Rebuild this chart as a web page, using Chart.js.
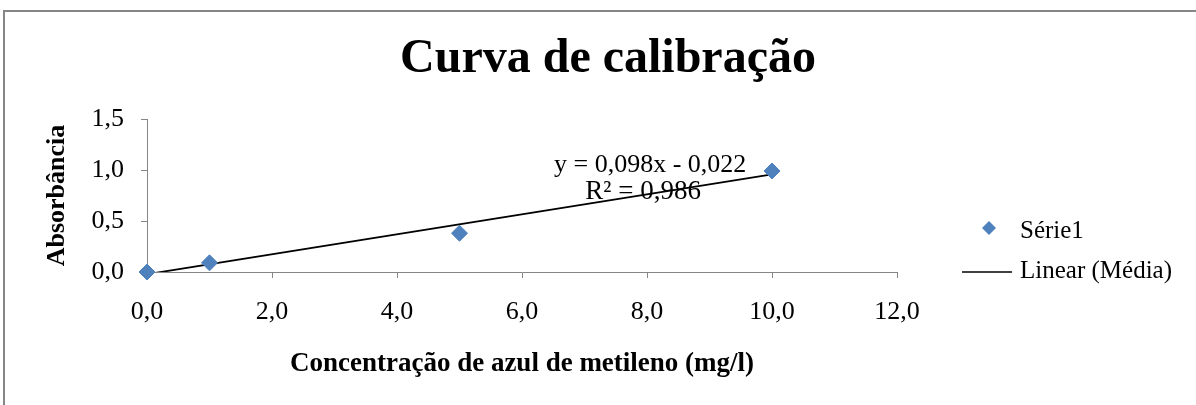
<!DOCTYPE html>
<html>
<head>
<meta charset="utf-8">
<script src="https://cdn.jsdelivr.net/npm/chart.js@4.4.0/dist/chart.umd.min.js"></script>
<style>
  html, body { margin: 0; padding: 0; background: #fff; }
  #wrap { width: 1196px; height: 405px; }
</style>
</head>
<body>
<div id="wrap"><canvas id="chart" width="1196" height="405"></canvas></div>
<script>
// data
const concentracao = [0, 1, 5, 10];
const absorbancia = [0, 0.09, 0.38, 0.99];
// trendline end points (from y = 0,098x - 0,022)
const linhaX = [0, 10];
const linhaY = [-0.022, 0.958];
const titulo = "Curva de calibração";
const tituloX = "Concentração de azul de metileno (mg/l)";
const tituloY = "Absorbância";
const equacao = ["y = 0,098x - 0,022", "R² = 0,986"];
const legendaSerie = "Série1";
const legendaLinha = "Linear (Média)";

const azul = "#4F81BD";
const cinza = "#868686";
const serif = "'Liberation Serif', 'Times New Roman', serif";

const fmt = (v) => v.toFixed(1).replace(".", ",");

// title, equation, legend and outer frame
const extras = {
  id: "extras",
  beforeDraw(chart) {
    const ctx = chart.ctx;
    ctx.save();
    ctx.strokeStyle = cinza;
    ctx.lineWidth = 2;
    ctx.beginPath();
    ctx.moveTo(1196, 11);
    ctx.lineTo(4, 11);
    ctx.lineTo(4, 405);
    ctx.stroke();
    ctx.restore();
  },
  afterDraw(chart) {
    const ctx = chart.ctx;
    const xs = chart.scales.x;
    ctx.save();
    ctx.fillStyle = "#000";
    ctx.textBaseline = "alphabetic";

    ctx.font = "bold 48px " + serif;
    ctx.textAlign = "center";
    ctx.fillText(titulo, 608, 72);

    ctx.font = "26px " + serif;
    const cx = xs.getPixelForValue(8.05);
    ctx.fillText(equacao[0], cx, 172);
    ctx.font = "27px " + serif;
    ctx.fillText(equacao[1], cx - 7, 199);

    // legend
    ctx.textAlign = "left";
    ctx.font = "25px " + serif;
    ctx.fillStyle = azul;
    ctx.beginPath();
    ctx.moveTo(989, 221);
    ctx.lineTo(996, 228);
    ctx.lineTo(989, 235);
    ctx.lineTo(982, 228);
    ctx.closePath();
    ctx.fill();
    ctx.fillStyle = "#000";
    ctx.fillText(legendaSerie, 1020, 238);
    ctx.strokeStyle = "#000";
    ctx.lineWidth = 1.5;
    ctx.beginPath();
    ctx.moveTo(962, 272);
    ctx.lineTo(1012, 272);
    ctx.stroke();
    ctx.fillText(legendaLinha, 1020, 278);
    ctx.restore();
  }
};

new Chart(document.getElementById("chart"), {
  type: "scatter",
  data: {
    datasets: [
      {
        label: legendaSerie,
        data: concentracao.map((x, i) => ({ x: x, y: absorbancia[i] })),
        pointStyle: "rectRot",
        pointRadius: 8,
        pointBackgroundColor: azul,
        pointBorderColor: azul,
        pointBorderWidth: 1,
        order: 1,
        clip: false
      },
      {
        type: "line",
        label: legendaLinha,
        data: linhaX.map((x, i) => ({ x: x, y: linhaY[i] })),
        borderColor: "#000",
        borderWidth: 1.8,
        pointRadius: 0,
        fill: false,
        order: 2,
        clip: 0
      }
    ]
  },
  options: {
    responsive: false,
    animation: false,
    layout: { padding: { left: 38, right: 299, top: 119, bottom: 21 } },
    plugins: {
      legend: { display: false },
      title: { display: false },
      tooltip: { enabled: false }
    },
    scales: {
      x: {
        type: "linear",
        min: 0,
        max: 12,
        afterFit: (s) => { s.height = 112; },
        ticks: {
          stepSize: 2,
          padding: 19,
          color: "#000",
          font: { family: serif, size: 26 },
          callback: (v) => fmt(v)
        },
        grid: { drawOnChartArea: false, drawTicks: true, tickLength: 6, color: cinza },
        border: { color: cinza, width: 1 },
        title: {
          display: true,
          text: tituloX,
          color: "#000",
          font: { family: serif, size: 27, weight: "bold" }
        }
      },
      y: {
        min: 0,
        max: 1.5,
        afterFit: (s) => { s.width = 109; },
        ticks: {
          stepSize: 0.5,
          padding: 17,
          color: "#000",
          font: { family: serif, size: 26 },
          callback: (v) => fmt(v)
        },
        grid: { drawOnChartArea: false, drawTicks: true, tickLength: 6, color: cinza },
        border: { color: cinza, width: 1 },
        title: {
          display: true,
          text: tituloY,
          color: "#000",
          font: { family: serif, size: 26, weight: "bold" }
        }
      }
    }
  },
  plugins: [extras]
});
</script>
</body>
</html>
